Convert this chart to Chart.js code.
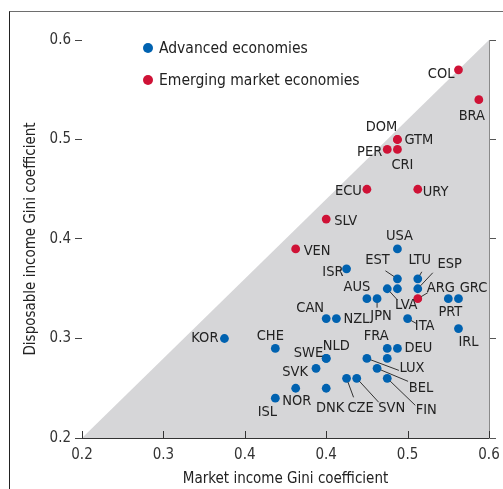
<!DOCTYPE html>
<html>
<head>
<meta charset="utf-8">
<script src="https://cdn.jsdelivr.net/npm/chart.js@4.4.1/dist/chart.umd.min.js"></script>
<style>
  body { margin: 0; background: #fff; }
  #wrap { position: relative; width: 503px; height: 489px; overflow: hidden; }
  #frame { position: absolute; left: 9px; top: 11px; width: 600px; height: 600px;
    border-top: 1.5px solid #6e6e6e; border-left: 1.5px solid #222; pointer-events: none; }
  .legend { position: absolute; left: 143px; font: 15.5px "Liberation Sans Narrow", "Arial Narrow", "DejaVu Sans Condensed", sans-serif;
    color: #222; display: flex; align-items: center; white-space: nowrap; }
  .legend i { display: inline-block; width: 10px; height: 10px; border-radius: 50%; margin-right: 6px; }
</style>
</head>
<body>
<div id="wrap">
  <canvas id="chart" width="503" height="489"></canvas>
  <div id="frame"></div>
  <div class="legend" style="top:39px"><i style="background:#0062b0"></i>Advanced economies</div>
  <div class="legend" style="top:71px"><i style="background:#cf1236"></i>Emerging market economies</div>
</div>
<script>
const fontFamily = '"Liberation Sans Narrow", "Arial Narrow", "DejaVu Sans Condensed", sans-serif';
const blue = "#0062b0";
const red = "#cf1236";

// x ticks as in the source figure (labels rounded to one decimal)
const xTickValues = [0.2, 0.28, 0.36, 0.44, 0.52, 0.6];
const yTickValues = [0.2, 0.3, 0.4, 0.5, 0.6];
const diagonal = [0.2, 0.6];

const advCodes = ["USA", "ISR", "EST", "LTU", "LVA", "", "ESP", "AUS", "JPN", "PRT", "GRC", "CAN", "NZL", "ITA", "IRL",
  "KOR", "CHE", "FRA", "DEU", "SWE", "NLD", "LUX", "", "SVK", "BEL", "CZE", "SVN", "FIN", "NOR", "DNK", "ISL"];
const advMarket = [0.51, 0.46, 0.51, 0.53, 0.50, 0.51, 0.53, 0.48, 0.49, 0.56, 0.57, 0.44, 0.45, 0.52, 0.57,
  0.34, 0.39, 0.50, 0.51, 0.44, 0.44, 0.48, 0.50, 0.43, 0.49, 0.46, 0.47, 0.50, 0.41, 0.44, 0.39];
const advDisposable = [0.39, 0.37, 0.36, 0.36, 0.35, 0.35, 0.35, 0.34, 0.34, 0.34, 0.34, 0.32, 0.32, 0.32, 0.31,
  0.30, 0.29, 0.29, 0.29, 0.28, 0.28, 0.28, 0.28, 0.27, 0.27, 0.26, 0.26, 0.26, 0.25, 0.25, 0.24];

const emCodes = ["COL", "BRA", "DOM", "GTM", "PER", "CRI", "ECU", "URY", "SLV", "VEN", "ARG"];
const emMarket = [0.57, 0.59, 0.51, 0.51, 0.50, 0.51, 0.48, 0.53, 0.44, 0.41, 0.53];
const emDisposable = [0.57, 0.54, 0.50, 0.50, 0.49, 0.49, 0.45, 0.45, 0.42, 0.39, 0.34];

// label placement: [dx, dy, align] from the dot, plus optional leader end [lx, ly]
const placement = {
  COL: [-4, 4, "right"], BRA: [-7, 17, "center"], DOM: [-16, -12, "center"], GTM: [7, 1, "left"],
  PER: [-5, 3, "right"], CRI: [5, 16, "center"], ECU: [-5, 2, "right"], URY: [5, 3, "left"],
  SLV: [8, 2, "left"], VEN: [8, 2, "left"], ARG: [23, -10, "center", [10, -6]],
  USA: [2, -13, "center"], ISR: [-3, 3, "right"], EST: [-20, -19, "center", [-12, -8]],
  LTU: [2, -19, "center", [4, -7]], ESP: [32, -25, "center", [15, -16]], LVA: [19, 16, "center", [10, 11]],
  AUS: [-10, -11, "center"], JPN: [4, 18, "center", [0, 9]], PRT: [2, 14, "center"], GRC: [15, -10, "center"],
  CAN: [-16, -10, "center"], NZL: [7, 1, "left"], ITA: [17, 8, "center", [9, 5]], IRL: [10, 14, "center"],
  KOR: [-6, 0, "right"], CHE: [-5, -12, "center"], FRA: [-11, -12, "center"], DEU: [7, 0, "left"],
  SWE: [-3, -5, "right"], NLD: [10, -12, "center"], LUX: [45, 10, "center", [32, 12]],
  SVK: [-8, 4, "right"], BEL: [44, 20, "center", [31, 13]], CZE: [14, 30, "center", [7, 19]],
  SVN: [35, 30, "center", [22, 24]], FIN: [39, 32, "center", [28, 27]], NOR: [1, 13, "center"],
  DNK: [4, 20, "center"], ISL: [-8, 14, "center"],
};

function toPoints(xs, ys) {
  return xs.map((x, i) => ({ x, y: ys[i] }));
}

const labelPlugin = {
  id: "countryLabels",
  afterDatasetsDraw(chart) {
    const { ctx } = chart;
    const xs = chart.scales.x;
    const ys = chart.scales.y;
    const groups = [[advCodes, advMarket, advDisposable], [emCodes, emMarket, emDisposable]];
    ctx.save();
    ctx.font = `14.5px ${fontFamily}`;
    ctx.textBaseline = "middle";
    ctx.fillStyle = "#222";
    ctx.strokeStyle = "#333";
    ctx.lineWidth = 1;
    groups.forEach(([codes, mx, dy]) => {
      codes.forEach((code, i) => {
        const p = placement[code];
        if (!code || !p) return;
        const px = xs.getPixelForValue(mx[i]);
        const py = ys.getPixelForValue(dy[i]);
        if (p[3]) {
          const [lx, ly] = p[3];
          const len = Math.hypot(lx, ly);
          ctx.beginPath();
          ctx.moveTo(px + (lx / len) * 4, py + (ly / len) * 4);
          ctx.lineTo(px + lx, py + ly);
          ctx.stroke();
        }
        ctx.textAlign = p[2];
        ctx.fillText(code, px + p[0], py + p[1]);
      });
    });
    ctx.restore();
  },
  afterDraw(chart) {
    // inward tick marks on the x axis
    const { ctx, chartArea } = chart;
    const xs = chart.scales.x;
    ctx.save();
    ctx.strokeStyle = "#333";
    ctx.lineWidth = 1;
    xTickValues.forEach((v) => {
      const px = Math.round(xs.getPixelForValue(v)) + 0.5;
      ctx.beginPath();
      ctx.moveTo(px, chartArea.bottom);
      ctx.lineTo(px, chartArea.bottom - 7);
      ctx.stroke();
    });
    ctx.restore();
  },
};

new Chart(document.getElementById("chart"), {
  type: "scatter",
  data: {
    datasets: [
      {
        label: "Emerging market economies",
        data: toPoints(emMarket, emDisposable),
        backgroundColor: red,
        borderWidth: 0,
        pointRadius: 4.4,
      },
      {
        label: "Advanced economies",
        data: toPoints(advMarket, advDisposable),
        backgroundColor: blue,
        borderWidth: 0,
        pointRadius: 4.4,
      },
      {
        type: "line",
        label: "45 degree",
        data: toPoints(diagonal, diagonal),
        borderWidth: 0,
        pointRadius: 0,
        fill: "start",
        backgroundColor: "#d6d6d8",
      },
    ],
  },
  options: {
    responsive: false,
    animation: false,
    layout: { padding: { top: 40, left: 0, right: 0, bottom: 0 } },
    plugins: { legend: { display: false }, tooltip: { enabled: false } },
    scales: {
      x: {
        type: "linear",
        min: 0.2,
        max: 0.6,
        afterBuildTicks: (scale) => { scale.ticks = xTickValues.map((value) => ({ value })); },
        afterFit: (scale) => { scale.height = 51; scale.paddingLeft = 0; scale.paddingRight = 0; },
        ticks: { color: "#333", padding: 8, autoSkip: false, maxRotation: 0,
          font: { family: fontFamily, size: 15 }, callback: (v) => v.toFixed(1) },
        grid: { drawOnChartArea: false, drawTicks: false },
        border: { display: true, color: "#333", width: 1 },
        title: { display: true, text: "Market income Gini coefficient", color: "#222", padding: { top: 0, bottom: 1 },
          font: { family: fontFamily, size: 15, lineHeight: 1.2 } },
      },
      y: {
        type: "linear",
        position: "left",
        min: 0.2,
        max: 0.6,
        afterBuildTicks: (scale) => { scale.ticks = yTickValues.map((value) => ({ value })); },
        afterFit: (scale) => { scale.width = 82; },
        ticks: { color: "#333", padding: 4, font: { family: fontFamily, size: 15 }, callback: (v) => v.toFixed(1) },
        grid: { drawOnChartArea: false, tickLength: 7, color: "#444" },
        border: { display: false },
        title: { display: true, text: "Disposable income Gini coefficient", color: "#222", padding: { top: 22, bottom: 0 },
          font: { family: fontFamily, size: 15, lineHeight: 1.2 } },
      },
      yRight: {
        type: "linear",
        position: "right",
        min: 0.2,
        max: 0.6,
        afterBuildTicks: (scale) => { scale.ticks = yTickValues.map((value) => ({ value })); },
        afterFit: (scale) => { scale.width = 14; },
        ticks: { display: false },
        grid: { drawOnChartArea: false, tickLength: 7, color: "#555" },
        border: { display: true, color: "#8a8a8a", width: 1 },
      },
    },
  },
  plugins: [labelPlugin],
});
</script>
</body>
</html>
